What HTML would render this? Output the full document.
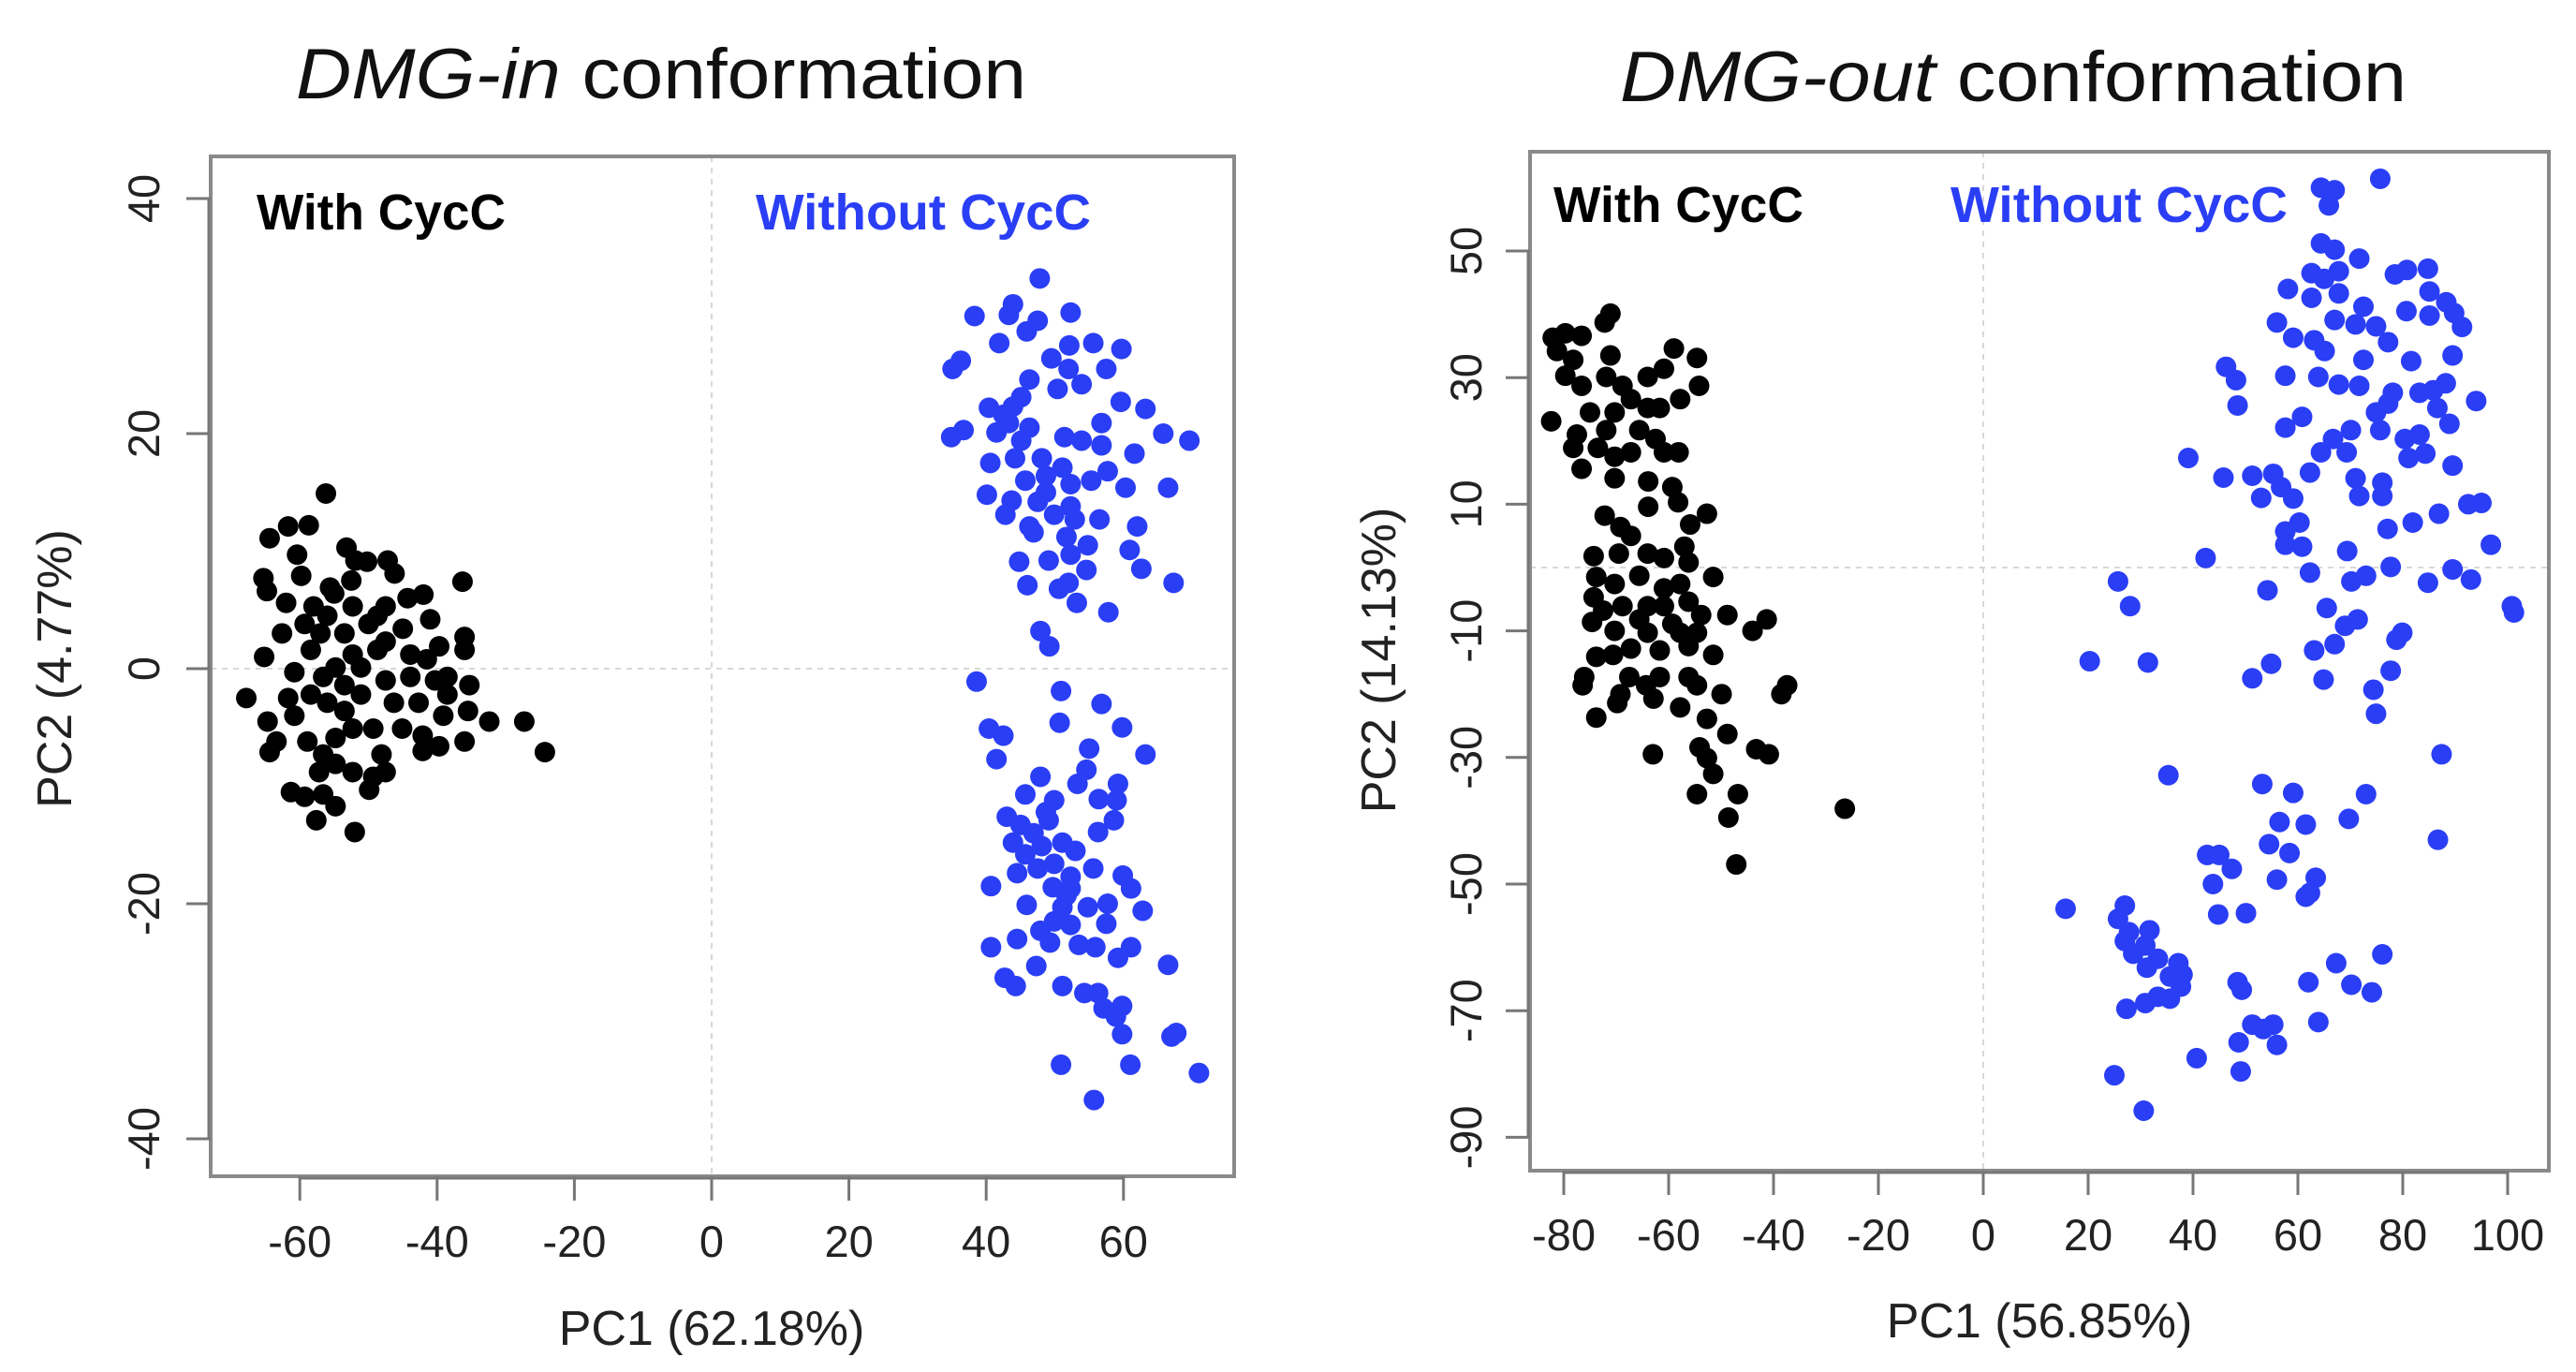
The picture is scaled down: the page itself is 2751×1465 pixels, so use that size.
<!DOCTYPE html>
<html><head><meta charset="utf-8"><style>
html,body{margin:0;padding:0;background:#fff;}
svg{display:block;font-family:"Liberation Sans",sans-serif;}
</style></head><body>
<svg id="chart" width="2751" height="1465" viewBox="0 0 2751 1465"></svg>
<script>
// ---- Left panel (DMG-in) data ----
const leftXTicks = [-60,-40,-20,0,20,40,60];
const leftYTicks = [-40,-20,0,20,40];
const leftWithX = [-56.2,-64.4,-61.7,-58.7,-60.4,-53.2,-65.3,-64.8,-59.8,-51.9,-50.2,-47.2,-46.2,-36.3,-42,-62,-55.6,-52.5,-44.3,-41,-36,-36,-62.6,-65.2,-59.3,-56,-53.5,-50,-47.5,-45,-58.4,-52.3,-48.7,-43.9,-67.8,-64.7,-61.7,-64.4,-63.4,-60.8,-58.4,-56,-53.5,-51.1,-47.5,-43.9,-40.3,-38.5,-35.3,-39.1,-35.5,-32.4,-27.3,-24.3,-36,-39.7,-42.1,-42.1,-45.1,-48.1,-47.5,-49.9,-49.3,-52.3,-54.8,-57.2,-56.6,-58.9,-54.8,-52.3,-49.3,-61.3,-59.3,-56.6,-54.8,-57.6,-52,-53.5,-56.6,-46.3,-42.7,-51.1,-54.8,-60.8,-41.5,-38.5,-48.7,-52.3,-58,-55,-47.5,-57,-39.7];
const leftWithY = [14.9,11.1,12.1,12.2,9.7,10.3,7.7,6.6,7.9,9.2,9.1,9.2,8.1,7.4,6.3,5.6,6.9,7.5,6,4.2,2.7,1.6,3,1,3.8,4.5,3,3.8,2.3,3.4,1.6,1.2,1.6,1.2,-2.5,-4.5,-2.5,-7.1,-6.2,-4,-2.2,-2.9,-3.6,-2.2,-1,-0.7,-1,-2.2,-1.4,-4,-3.6,-4.5,-4.5,-7.1,-6.2,-6.6,-7,-5.7,-5.1,-7.3,-8.8,-10.3,-9.2,-8.8,-8.1,-8.8,-7.3,-6.2,-5.9,-5.1,-5.1,-10.5,-10.9,-10.7,-11.7,-12.9,-13.9,-1.4,-0.7,-2.9,-2.9,0.1,0.1,-0.3,0.8,-0.7,4.5,5.3,5.3,6.4,5.3,3,1.9];
const leftWithoutX = [47.8,38.3,43.9,43.3,47.5,52.3,45.9,41.9,49.5,52.1,55.6,59.7,35.1,36.3,52,57.5,46.3,53.9,50.4,45.1,43.9,40.4,42.5,59.6,63.2,34.9,36.7,41.5,43.3,46.3,51.4,53.9,56.8,65.8,69.6,40.6,44.2,48.1,51.1,56.8,61.6,45.7,48.7,52.3,55.3,57.7,60.3,66.5,40.1,43.7,47.5,52.3,42.8,46.3,49.9,52.9,56.5,62,46.9,51.7,54.8,52.3,60.9,44.8,49.1,54.6,62.6,46,50.6,52,67.3,53.2,57.8,47.9,49.2,48.7,45.1,
 38.6,50.9,56.8,40.4,42.5,50.7,59.8,41.5,55,63.2,47.9,54.6,53.3,59.2,45.7,49.9,56.4,59,43,45,49.1,46.9,43.9,48.1,51.1,53,56.3,58.6,45.7,49.9,44.5,47.5,52.3,55.6,59.9,40.7,49.7,52.3,61.1,45.9,51.1,54.8,57.7,62.8,49.9,52.3,57.5,47.9,44.5,49.3,53.5,55.9,40.7,61.1,59.2,47.3,66.5,42.7,44.3,51.1,54.3,56.3,57.1,59.8,58.9,59.8,67,67.7,50.9,61,71,55.7,51.7,48.7];
const leftWithoutY = [33.2,30,31,30.1,29.6,30.3,28.7,27.7,26.4,27.5,27.7,27.2,25.5,26.2,25.5,25.5,24.6,24.2,23.8,23.1,22.3,22.2,21.6,22.7,22.1,19.7,20.3,20.1,20.9,20.5,19.7,19.4,20.9,20,19.4,17.5,17.9,17.9,17.1,19,18.3,16,16.4,15.7,16,16.8,15.4,15.4,14.8,14.3,14.2,13.8,13.1,12.1,13.1,12.7,12.7,12.1,11.6,11.2,10.5,9.7,10.1,9.1,9.2,8.4,8.5,7.1,6.8,7.3,7.3,5.6,4.8,3.2,1.9,15,19.4,
 -1.1,-1.9,-3,-5.1,-5.7,-4.6,-5,-7.7,-6.8,-7.3,-9.2,-8.6,-9.8,-9.8,-10.7,-11.2,-11.1,-11.2,-12.6,-13.3,-12.9,-14,-14.8,-15.1,-14.8,-15.5,-13.9,-12.9,-15.8,-16.6,-17.4,-17,-17.7,-17,-17.6,-18.5,-18.6,-18.7,-18.7,-20.1,-20.3,-20.3,-20,-20.6,-21.5,-21.8,-21.7,-22.3,-23,-23.3,-23.5,-23.7,-23.7,-23.7,-24.6,-25.3,-25.2,-26.3,-27,-27,-27.6,-27.6,-28.9,-28.7,-29.6,-31.1,-31.3,-31,-33.7,-33.7,-34.4,-36.7,-19.3,-12.2];

// ---- Right panel (DMG-out) data ----
const rightXTicks = [-80,-60,-40,-20,0,20,40,60,80,100];
const rightYTicks = [-90,-70,-50,-30,-10,10,30,50];
const rightWithX = [-71.1,-72.2,-82.1,-79.7,-76.6,-81.3,-78.2,-71.1,-59,-54.6,-54.2,-60.9,-64,-79.7,-76.6,-71.9,-68.8,-67.2,-57.8,-61.7,-64,-70.3,-75,-82.4,-71.9,-65.6,-62.5,-77.5,-78.2,-73.5,-70.3,-67.2,-60.9,-58.1,-76.6,-70.3,-63.9,-58.2,-63.9,-52.7,-72.2,-69.2,-55.9,-67.2,-57,-74.3,-69.5,-64,-60.9,-56.2,-73.8,-70.3,-51.5,-65.6,-60.9,-57.8,-74.3,-68.8,-64,-60.9,-56.2,-53.8,-72.5,-65.6,-59.3,-48.8,-74.6,-70.3,-64,-57.8,-54.6,-44,-41.3,-67.2,-61.7,-56.2,-51.5,-73.8,-70.6,-76.1,-67.5,-61.7,-56.2,-76.4,-64.3,-54.6,-49.9,-37.4,-38.5,-69.2,-62.9,-69.8,-57.8,-52.7,-73.8,-48.8,-54.1,-43.3,-40.9,-63,-52.7,-51.5,-54.6,-46.8,-48.6,-47.1,-26.4,-59.3];
const rightWithY = [40.1,38.7,36.3,37,36.6,34.2,32.8,33.5,34.6,33.1,28.7,31.4,30.1,30.3,28.7,30.1,28.7,26.6,26.6,25.2,25.2,24.5,24.5,23.1,21.7,21.7,20.3,21,18.9,18.9,17.5,18.2,18.2,18.2,15.6,14.1,13.6,10.3,9.6,8.5,8.2,6.4,6.8,5,3.3,1.8,2.2,2.2,1.5,0.8,-1.5,-2.6,-1.5,-1.3,-3.3,-2.6,-4.7,-6.1,-6.1,-6.1,-5.4,-7.5,-6.8,-8.2,-8.9,-7.5,-8.6,-10,-10.3,-10.3,-10.3,-10,-8.2,-12.8,-13.1,-12.4,-13.8,-14.1,-13.8,-17.3,-17.3,-17.3,-17.3,-18.6,-18.6,-18.6,-20,-18.6,-20,-20,-20.7,-21.4,-22.1,-23.9,-23.7,-26.3,-28.4,-28.7,-29.5,-29.5,-30.1,-32.6,-35.8,-35.8,-39.5,-46.9,-38.1,12.7];
const rightWithoutX = [75.7,64.4,67,65.9,64.4,67,71.7,62.6,65,67.8,78.5,80.8,84.8,58.1,62.6,67.8,85.1,88.3,72.5,80.7,85.1,89.8,56,67,71,74.9,91.3,59.1,63.1,65.1,72.5,77.2,81.6,89.5,46.3,48.2,57.6,63.9,67.8,71.7,78.1,83.2,85.8,88.2,94,48.5,60.8,57.6,70.1,75.7,74.9,77.2,86.6,88.9,80.4,83.2,66.7,64.4,69.3,84.3,81.1,39.1,89.5,45.8,51.3,55.3,62.3,71,76.1,56.8,53,59.1,71.7,76.1,92.5,95,86.9,60.3,81.9,57.6,77.1,57.6,60.8,96.8,69.4,42.4,77.7,89.5,62.3,73,70.2,25.7,84.8,93,28,54.2,65.5,100.8,101.2,71.4,69,79.9,78.8,67,63.1,20.3,31.4,54.9,51.3,64.9,77.7,74.4,74.9,87.4,35.3,53.2,59.1,73,56.5,61.5,69.7,86.7,54.5,58.4,42.7,45,47.4,56,63.4,62.3,61.5,43.8,15.7,27,25.7,44.8,50.1,31.7,27,30.9,28.6,33.3,37.2,31.2,38,35.6,37.7,76.1,67.3,48.5,49.3,62,70.2,74.1,33.3,35.6,30.9,27.3,51.3,55.3,53.4,63.9,48.7,56,40.7,49.1,25,30.6,27.8];
const rightWithoutY = [61.4,60,59.6,57.2,51.2,50.2,48.8,46.5,45.6,46.8,46.3,47,47.2,44,42.6,43.3,43.6,41.9,41.2,40.5,39.8,40.2,38.7,39.1,38.4,38.1,38,36.3,35.9,34.2,32.8,35.6,32.6,33.5,31.7,29.6,30.3,30.1,28.9,28.7,27.6,27.6,28,29.1,26.3,25.6,23.8,22.1,21.7,21.7,24.5,25.9,25.2,22.7,20.3,21,20.3,18.2,18.2,18,17.3,17.3,16.1,14.2,14.5,14.8,15,14.1,13.4,12.7,11,10.9,11.3,11.3,10,10.2,8.5,7.1,7.1,5.7,6.1,3.6,3.3,3.6,2.6,1.5,0.1,-0.3,-0.8,-1.3,-2.2,-2.2,-2.4,-1.9,-6.1,-3.6,-6.4,-6.1,-7.1,-8.2,-9.2,-10.3,-11.4,-12.1,-13.1,-14.8,-15,-15.2,-17.5,-17.7,-16.3,-19.3,-23.1,-29.5,-32.8,-34.2,-35.6,-35.8,-40.2,-40.6,-39.7,-43,-43.7,-45.1,-45.4,-45.4,-47.6,-49.3,-49,-51.4,-52,-50,-53.9,-53.4,-55.5,-54.8,-54.6,-57.3,-59,-59.7,-61,-61.8,-62.5,-63.2,-64.3,-64.6,-66.2,-61.1,-62.5,-65.5,-66.7,-65.5,-65.9,-67.1,-67.8,-68.1,-68.8,-69.7,-72.2,-72.2,-72.9,-71.8,-75,-75.4,-77.5,-79.6,-80.2,-85.8,-57.6];

const NS = 'http://www.w3.org/2000/svg';
const svg = document.getElementById('chart');
function mk(tag, attrs, parent) {
  const e = document.createElementNS(NS, tag);
  for (const k in attrs) e.setAttribute(k, attrs[k]);
  (parent || svg).appendChild(e);
  return e;
}

function panel(cfg) {
  const g = mk('g', {});
  
  
  const sx = v => cfg.x0 + v * cfg.ux;
  const sy = v => cfg.y0 - v * cfg.uy;
  const t = mk('text', {x: cfg.titleX, y: cfg.titleY, 'font-size': 76, 'text-anchor': 'middle', fill: '#111', textLength: cfg.titleW, lengthAdjust: 'spacingAndGlyphs'}, g);
  
  
  const it = mk('tspan', {'font-style': 'italic'}, t); it.textContent = cfg.titleItalic;
  const rt = mk('tspan', {}, t); rt.textContent = ' conformation';
  const zx = mk('line', {x1: sx(0), x2: sx(0), y1: cfg.top, y2: cfg.bottom, stroke: '#d8d8d8', 'stroke-width': 2, 'stroke-dasharray': '6,6'}, g);
  
  
  const zy = mk('line', {x1: cfg.left, x2: cfg.right, y1: sy(0), y2: sy(0), stroke: '#d8d8d8', 'stroke-width': 2, 'stroke-dasharray': '6,6'}, g);
  
  
  const box = mk('rect', {x: cfg.left, y: cfg.top, width: cfg.right - cfg.left, height: cfg.bottom - cfg.top, fill: 'none', stroke: '#8a8a8a', 'stroke-width': 4}, g);
  
  
  const xa = mk('g', {}, g);
  
  
  mk('line', {x1: sx(cfg.xTicks[0]), x2: sx(cfg.xTicks[cfg.xTicks.length-1]), y1: cfg.bottom + 2, y2: cfg.bottom + 2, stroke: '#777', 'stroke-width': 3}, xa);
  cfg.xTicks.forEach(v => {
    mk('line', {x1: sx(v), x2: sx(v), y1: cfg.bottom, y2: cfg.bottom + 26, stroke: '#777', 'stroke-width': 3}, xa);
    const tl = mk('text', {x: sx(v), y: cfg.xLabY, 'font-size': 47, 'text-anchor': 'middle', fill: '#222'}, xa);
    
    
    tl.textContent = v;
  });
  const xt = mk('text', {x: cfg.xTitleX, y: cfg.xTitleY, 'font-size': 52, 'text-anchor': 'middle', fill: '#222'}, g);
  
  
  xt.textContent = cfg.xTitle;
  const ya = mk('g', {}, g);
  
  
  mk('line', {x1: cfg.left - 2, x2: cfg.left - 2, y1: sy(cfg.yTicks[0]), y2: sy(cfg.yTicks[cfg.yTicks.length-1]), stroke: '#777', 'stroke-width': 3}, ya);
  cfg.yTicks.forEach(v => {
    mk('line', {x1: cfg.left - 26, x2: cfg.left, y1: sy(v), y2: sy(v), stroke: '#777', 'stroke-width': 3}, ya);
    const tl = mk('text', {x: 0, y: 0, 'font-size': 47, 'text-anchor': 'middle', fill: '#222', transform: `translate(${cfg.yLabX},${sy(v)}) rotate(-90)`}, ya);
    
    
    tl.textContent = v;
  });
  const yt = mk('text', {x: 0, y: 0, 'font-size': 52, 'text-anchor': 'middle', fill: '#222', transform: `translate(${cfg.yTitleX},${cfg.yTitleY}) rotate(-90)`}, g);
  
  
  yt.textContent = cfg.yTitle;
  const l1 = mk('text', {x: cfg.lab1X, y: cfg.labY, 'font-size': 54, 'font-weight': 'bold', fill: '#000', textLength: cfg.lab1W, lengthAdjust: 'spacingAndGlyphs'}, g);
  
  
  l1.textContent = 'With CycC';
  const l2 = mk('text', {x: cfg.lab2X, y: cfg.labY, 'font-size': 54, 'font-weight': 'bold', fill: '#2a3ef5', textLength: cfg.lab2W, lengthAdjust: 'spacingAndGlyphs'}, g);
  
  
  l2.textContent = 'Without CycC';
  const s1 = mk('g', {fill: '#000'}, g);
  
  
  cfg.wX.forEach((v, i) => {
    const c = mk('circle', {cx: sx(v), cy: sy(cfg.wY[i]), r: 11}, s1);
    
    
  });
  const s2 = mk('g', {fill: '#2a3ef5'}, g);
  
  
  cfg.woX.forEach((v, i) => {
    const c = mk('circle', {cx: sx(v), cy: sy(cfg.woY[i]), r: 11}, s2);
    
    
  });
}

panel({name: 'dmg-in-panel', x0: 760, ux: 7.33, y0: 714, uy: 12.55,
  left: 225, right: 1318, top: 167, bottom: 1256,
  xTicks: leftXTicks, yTicks: leftYTicks,
  titleItalic: 'DMG-in', titleX: 706, titleY: 105, titleW: 780,
  xTitle: 'PC1 (62.18%)', xTitleX: 760, xTitleY: 1436, xLabY: 1342,
  yTitle: 'PC2 (4.77%)', yTitleX: 76, yTitleY: 714, yLabX: 170,
  lab1X: 274, lab1W: 266, lab2X: 807, lab2W: 358, labY: 245,
  wX: leftWithX, wY: leftWithY, woX: leftWithoutX, woY: leftWithoutY});

panel({name: 'dmg-out-panel', x0: 2118, ux: 5.6, y0: 606, uy: 6.76,
  left: 1634, right: 2722, top: 162, bottom: 1250,
  xTicks: rightXTicks, yTicks: rightYTicks,
  titleItalic: 'DMG-out', titleX: 2150, titleY: 108, titleW: 840,
  xTitle: 'PC1 (56.85%)', xTitleX: 2178, xTitleY: 1428, xLabY: 1335,
  yTitle: 'PC2 (14.13%)', yTitleX: 1490, yTitleY: 705, yLabX: 1582,
  lab1X: 1659, lab1W: 267, lab2X: 2083, lab2W: 360, labY: 237,
  wX: rightWithX, wY: rightWithY, woX: rightWithoutX, woY: rightWithoutY});
</script>
</body></html>
